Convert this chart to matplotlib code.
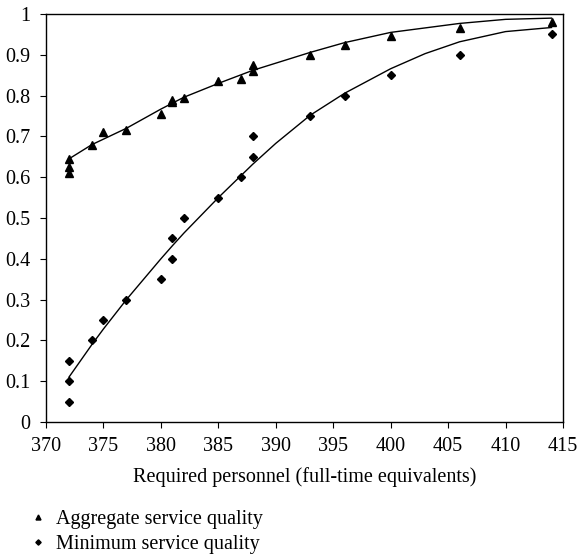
import matplotlib
matplotlib.use("Agg")
import matplotlib.pyplot as plt

plt.rcParams['font.family'] = ['Liberation Serif', 'DejaVu Serif']

agg_x = [372, 372, 372, 374, 375, 377, 380, 381, 381, 382, 385, 387, 388, 388, 393, 396, 400, 406, 414]
agg_y = [0.645, 0.625, 0.61, 0.68, 0.71, 0.715, 0.755, 0.785, 0.79, 0.795, 0.835, 0.84, 0.875, 0.86, 0.90, 0.925, 0.945, 0.965, 0.98]

min_x = [372, 372, 372, 374, 375, 377, 380, 381, 381, 382, 385, 387, 388, 388, 393, 396, 400, 406, 414]
min_y = [0.15, 0.10, 0.05, 0.20, 0.25, 0.30, 0.35, 0.45, 0.40, 0.50, 0.55, 0.60, 0.70, 0.65, 0.75, 0.80, 0.85, 0.90, 0.95]

# fitted curves
agg_curve_x = [372, 374, 377, 380, 382, 385, 388, 393, 396, 400, 406, 410, 414]
agg_curve_y = [0.645, 0.68, 0.72, 0.767, 0.796, 0.830, 0.862, 0.906, 0.930, 0.955, 0.977, 0.987, 0.99]

min_curve_x = [372, 374, 375, 377, 380, 381, 382, 385, 388, 390, 393, 396, 400, 403, 406, 410, 414]
min_curve_y = [0.11, 0.19, 0.228, 0.30, 0.40, 0.432, 0.463, 0.55, 0.632, 0.683, 0.752, 0.806, 0.866, 0.903, 0.932, 0.957, 0.967]

x_ticks = list(range(370, 416, 5))
y_ticks = [0, 0.1, 0.2, 0.3, 0.4, 0.5, 0.6, 0.7, 0.8, 0.9, 1]
y_labels = ['0', '0.1', '0.2', '0.3', '0.4', '0.5', '0.6', '0.7', '0.8', '0.9', '1']

fs = 14.5

fig = plt.figure(figsize=(5.79, 5.55), dpi=100)
ax = fig.add_axes([0.0794, 0.2396, 0.8930, 0.7351])

ax.plot(agg_curve_x, agg_curve_y, color='black', lw=1.0)
ax.plot(min_curve_x, min_curve_y, color='black', lw=1.0)

ax.plot(agg_x, agg_y, linestyle='none', marker='^', color='black', markersize=6,
        label='Aggregate service quality')
ax.plot(min_x, min_y, linestyle='none', marker='D', color='black', markersize=4.5,
        label='Minimum service quality')

ax.set_xlim(370, 415)
ax.set_ylim(0, 1)
ax.set_xticks(x_ticks)
ax.set_yticks(y_ticks)
ax.set_yticklabels(y_labels)
ax.tick_params(direction='out', length=4, labelsize=fs, colors='black', pad=7)
for s in ax.spines.values():
    s.set_linewidth(1.0)
ax.set_xlabel('Required personnel (full-time equivalents)', fontsize=fs, labelpad=8)

ax.legend(loc='upper left', bbox_to_anchor=(0.051, 0.082), bbox_transform=fig.transFigure,
          frameon=False, fontsize=fs, handlelength=0.8, handletextpad=0.5, labelspacing=0.32,
          markerscale=0.6, borderaxespad=0, borderpad=0)

fig.savefig('out.png', dpi=100)
